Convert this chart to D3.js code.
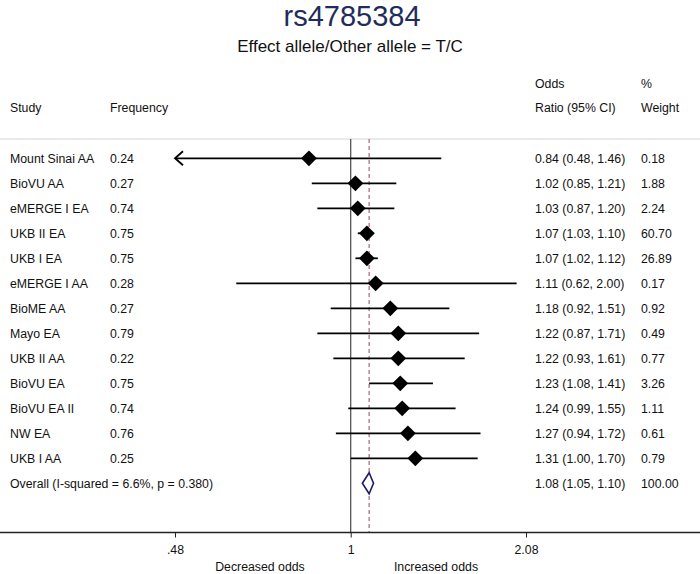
<!DOCTYPE html>
<html><head><meta charset="utf-8">
<script src="https://cdn.jsdelivr.net/npm/d3@7"></script>
<style>body{margin:0;background:#fff}svg{display:block}text{font-family:"Liberation Sans",Arial,Helvetica,sans-serif}</style>
</head><body>
<script>
const studies = ["Mount Sinai AA","BioVU AA","eMERGE I EA","UKB II EA","UKB I EA","eMERGE I AA","BioME AA","Mayo EA","UKB II AA","BioVU EA","BioVU EA II","NW EA","UKB I AA"];
const freqs = ["0.24","0.27","0.74","0.75","0.75","0.28","0.27","0.79","0.22","0.75","0.74","0.76","0.25"];
const ors = [0.84,1.02,1.03,1.07,1.07,1.11,1.18,1.22,1.22,1.23,1.24,1.27,1.31];
const los = [0.48,0.85,0.87,1.03,1.02,0.62,0.92,0.87,0.93,1.08,0.99,0.94,1.00];
const his = [1.46,1.21,1.20,1.10,1.12,2.00,1.51,1.71,1.61,1.41,1.55,1.72,1.70];
const weights = ["0.18","1.88","2.24","60.70","26.89","0.17","0.92","0.49","0.77","3.26","1.11","0.61","0.79"];
const overall = {label:"Overall  (I-squared = 6.6%, p = 0.380)", or:1.08, lo:1.05, hi:1.10, weight:"100.00"};
const tickVals = [0.48, 1, 2.08];
const tickLabels = [".48", "1", "2.08"];

const W = 700, H = 574;
const svg = d3.select("body").append("svg").attr("width", W).attr("height", H);
const x = d3.scaleLog().domain([0.48, 2.08]).range([175, 526]);
const y = d3.scaleLinear().domain([0, 13]).range([158.3, 483.3]);
const topY = 139, axisY = 532.5;
const fs = 12.3;
const f2 = v => v.toFixed(2);

// title
svg.append("text").attr("x", 352).attr("y", 26).attr("text-anchor", "middle")
  .attr("font-size", 29).attr("fill", "#1f2d5c").text("rs4785384");
svg.append("text").attr("x", 350).attr("y", 52).attr("text-anchor", "middle")
  .attr("font-size", 17).attr("fill", "#111").text("Effect allele/Other allele = T/C");

// headers
const hdr = [[10,112,"Study"],[110,112,"Frequency"],[535,88,"Odds"],[535,112,"Ratio (95% CI)"],[641,88,"%"],[641,112,"Weight"]];
svg.selectAll(".hdr").data(hdr).join("text").attr("class","hdr")
  .attr("x", d => d[0]).attr("y", d => d[1]).attr("font-size", fs).attr("fill", "#111").text(d => d[2]);

// top gray line
svg.append("line").attr("x1", 0).attr("x2", W).attr("y1", topY).attr("y2", topY)
  .attr("stroke", "#d4d4d4").attr("stroke-width", 1);

// reference lines
svg.append("line").attr("x1", x(1)).attr("x2", x(1)).attr("y1", topY).attr("y2", axisY)
  .attr("stroke", "#555").attr("stroke-width", 1.3);
svg.append("line").attr("x1", x(overall.or)).attr("x2", x(overall.or)).attr("y1", topY).attr("y2", axisY)
  .attr("stroke", "#a0405e").attr("stroke-width", 1).attr("stroke-dasharray", "4,3");

const idx = d3.range(studies.length);
const g = svg.append("g");
// CI lines
g.selectAll(".ci").data(idx).join("line").attr("class","ci")
  .attr("x1", i => x(Math.max(los[i], 0.48))).attr("x2", i => x(Math.min(his[i], 2.08)))
  .attr("y1", i => y(i)).attr("y2", i => y(i))
  .attr("stroke", "#000").attr("stroke-width", 1.8);
// arrows for clipped
g.selectAll(".arr").data(idx.filter(i => los[i] <= 0.48)).join("path").attr("class","arr")
  .attr("d", i => `M${x(0.48)+8},${y(i)-7}L${x(0.48)},${y(i)}L${x(0.48)+8},${y(i)+7}`)
  .attr("fill", "none").attr("stroke", "#000").attr("stroke-width", 1.8);
// markers
const sq = d3.symbol(d3.symbolSquare, 125);
g.selectAll(".mk").data(idx).join("path").attr("class","mk")
  .attr("d", sq).attr("transform", i => `translate(${x(ors[i])},${y(i)}) rotate(45)`)
  .attr("fill", "#000");

// overall diamond
const yo = y(13);
svg.append("path")
  .attr("d", `M${x(overall.lo)},${yo}L${x(overall.or)},${yo-10.5}L${x(overall.hi)},${yo}L${x(overall.or)},${yo+10.5}Z`)
  .attr("fill", "#fff").attr("stroke", "#1a1a6e").attr("stroke-width", 1.6);

// row texts
const rows = idx.map(i => ({y: y(i), s: studies[i], f: freqs[i], o: `${f2(ors[i])} (${f2(los[i])}, ${f2(his[i])})`, w: weights[i]}));
const rg = svg.append("g").attr("font-size", fs).attr("fill", "#111");
rg.selectAll(".st").data(rows).join("text").attr("x", 10).attr("y", d => d.y + 4.4).text(d => d.s);
rg.selectAll(".fr").data(rows).join("text").attr("x", 110).attr("y", d => d.y + 4.4).text(d => d.f);
rg.selectAll(".or").data(rows).join("text").attr("x", 535).attr("y", d => d.y + 4.4).text(d => d.o);
rg.selectAll(".wt").data(rows).join("text").attr("x", 641).attr("y", d => d.y + 4.4).text(d => d.w);
rg.append("text").attr("x", 10).attr("y", yo + 4.4).text(overall.label);
rg.append("text").attr("x", 535).attr("y", yo + 4.4).text(`${f2(overall.or)} (${f2(overall.lo)}, ${f2(overall.hi)})`);
rg.append("text").attr("x", 641).attr("y", yo + 4.4).text(overall.weight);

// axis
svg.append("line").attr("x1", 0).attr("x2", W).attr("y1", axisY).attr("y2", axisY)
  .attr("stroke", "#222").attr("stroke-width", 1.3);
const ax = svg.append("g").attr("transform", `translate(0,${axisY})`)
  .call(d3.axisBottom(x).tickValues(tickVals).tickSize(5).tickPadding(8)
    .tickFormat((d, i) => tickLabels[i]));
ax.select(".domain").remove();
ax.selectAll("line").attr("stroke", "#222");
ax.selectAll("text").attr("font-size", fs).attr("fill", "#111")
  .attr("font-family", '"Liberation Sans",Arial,sans-serif');

svg.append("text").attr("x", 260).attr("y", 571).attr("text-anchor", "middle").attr("font-size", fs).attr("fill", "#111").text("Decreased odds");
svg.append("text").attr("x", 436).attr("y", 571).attr("text-anchor", "middle").attr("font-size", fs).attr("fill", "#111").text("Increased odds");
</script>
</body></html>
